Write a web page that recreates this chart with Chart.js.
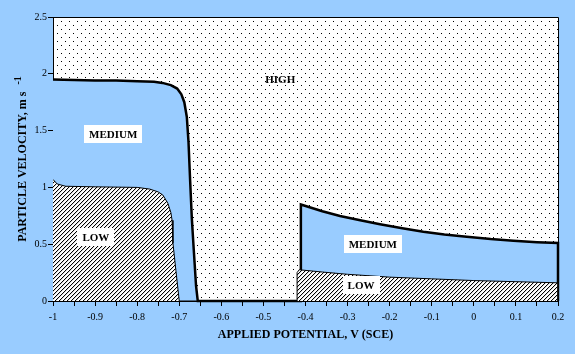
<!DOCTYPE html>
<html>
<head>
<meta charset="utf-8">
<script src="https://cdn.jsdelivr.net/npm/chart.js@4.4.0/dist/chart.umd.min.js"></script>
<style>
  html, body { margin: 0; padding: 0; background: #99ccff; }
  canvas { display: block; }
</style>
</head>
<body>
<canvas id="c" width="575" height="354" style="width:575px;height:354px"></canvas>
<script>
// ---- data ----
const xTickLabels = ['-1','-0.9','-0.8','-0.7','-0.6','-0.5','-0.4','-0.3','-0.2','-0.1','0','0.1','0.2'];
const yTickLabels = ['0','0.5','1','1.5','2','2.5'];

// upper boundary of the MEDIUM region (x = potential V, y = velocity m/s)
const mediumLeft = [
  [-1, 1.95], [-0.95, 1.945], [-0.9, 1.94], [-0.85, 1.94], [-0.8, 1.935], [-0.76, 1.93],
  [-0.74, 1.92], [-0.72, 1.90], [-0.705, 1.87], [-0.695, 1.82], [-0.688, 1.75],
  [-0.682, 1.62], [-0.678, 1.40], [-0.674, 1.05], [-0.670, 0.72], [-0.665, 0.42],
  [-0.660, 0.13], [-0.656, 0]
];
const mediumRight = [
  [-0.411, 0], [-0.411, 0.85], [-0.36, 0.79], [-0.318, 0.748], [-0.27, 0.71], [-0.223, 0.675],
  [-0.17, 0.64], [-0.12, 0.61], [-0.07, 0.585], [-0.017, 0.566], [0.04, 0.545],
  [0.094, 0.53], [0.15, 0.518], [0.2, 0.51], [0.2, 0]
];
// upper boundary of the LOW region
const lowLeft = [
  [-1, 1.07], [-0.99, 1.03], [-0.97, 1.01], [-0.9, 1.005], [-0.8, 1.0], [-0.77, 0.985],
  [-0.75, 0.96], [-0.739, 0.933], [-0.727, 0.86], [-0.72, 0.78], [-0.717, 0.71],
  [-0.715, 0.51], [-0.708, 0.27], [-0.700, 0]
];
const lowRight = [
  [-0.42, 0], [-0.42, 0.25], [-0.415, 0.275], [-0.36, 0.255], [-0.3, 0.235], [-0.2, 0.21],
  [-0.1, 0.195], [0, 0.18], [0.1, 0.17], [0.2, 0.16], [0.2, 0]
];
const regionLabels = [
  { text: 'HIGH',   x: -0.46,  y: 1.95, box: false },
  { text: 'MEDIUM', x: -0.857, y: 1.47, box: true },
  { text: 'LOW',    x: -0.898, y: 0.56, box: true },
  { text: 'MEDIUM', x: -0.24,  y: 0.50, box: true },
  { text: 'LOW',    x: -0.268, y: 0.14, box: true }
];
const xTitle = 'APPLIED POTENTIAL, V (SCE)';
const yTitle = 'PARTICLE VELOCITY, m s';
const yTitleSup = '-1';

// ---- patterns ----
function makeDots() {
  const c = document.createElement('canvas'); c.width = 8; c.height = 8;
  const g = c.getContext('2d');
  g.fillStyle = '#fff'; g.fillRect(0, 0, 8, 8);
  g.fillStyle = '#000'; g.fillRect(1, 1, 1, 1); g.fillRect(5, 5, 1, 1);
  return g.createPattern(c, 'repeat');
}
function makeHatch() {
  const c = document.createElement('canvas'); c.width = 4; c.height = 4;
  const g = c.getContext('2d');
  g.fillStyle = '#fff'; g.fillRect(0, 0, 4, 4);
  for (let r = 0; r < 4; r++) {
    g.fillStyle = '#000'; g.fillRect(3 - r, r, 1, 1);
    g.fillStyle = 'rgba(0,0,0,0.15)'; g.fillRect((4 - r) % 4, r, 1, 1);
  }
  return g.createPattern(c, 'repeat');
}
const dotPattern = makeDots();
const hatchPattern = makeHatch();

const toPts = a => a.map(p => ({ x: p[0], y: p[1] }));
const mediumData = toPts(mediumLeft.concat(mediumRight));
const lowData = toPts(lowLeft.concat(lowRight));

const SERIF = '"Liberation Serif", "Times New Roman", serif';

const bgPlugin = {
  id: 'bg',
  beforeDraw(chart) {
    const { ctx, chartArea: a } = chart;
    ctx.save();
    ctx.fillStyle = '#99ccff';
    ctx.fillRect(0, 0, chart.width, chart.height);
    ctx.fillStyle = dotPattern;
    ctx.fillRect(a.left, a.top, a.right - a.left, a.bottom - a.top);
    ctx.restore();
  },
  afterDatasetsDraw(chart) {
    const { ctx, scales: { x, y } } = chart;
    ctx.save();
    ctx.font = 'bold 11px ' + SERIF;
    ctx.textAlign = 'center';
    ctx.textBaseline = 'middle';
    regionLabels.forEach(l => {
      const px = x.getPixelForValue(l.x), py = y.getPixelForValue(l.y);
      const w = ctx.measureText(l.text).width;
      if (l.box) {
        ctx.fillStyle = '#fff';
        ctx.fillRect(Math.round(px - w / 2 - 5), Math.round(py - 9), Math.round(w + 10), 18);
      }
      ctx.fillStyle = '#000';
      ctx.fillText(l.text, px, py + 1);
    });
    ctx.restore();
  },
  afterDraw(chart) {
    const { ctx, chartArea: a } = chart;
    ctx.save();
    ctx.strokeStyle = '#000'; ctx.lineWidth = 1;
    ctx.beginPath();
    ctx.moveTo(a.left, a.top + 0.5); ctx.lineTo(a.right + 0.5, a.top + 0.5);
    ctx.lineTo(a.right + 0.5, a.bottom);
    ctx.stroke();
    // y axis title with superscript
    ctx.translate(22, (a.top + a.bottom) / 2);
    ctx.rotate(-Math.PI / 2);
    ctx.fillStyle = '#000';
    ctx.textBaseline = 'middle';
    ctx.textAlign = 'left';
    ctx.font = 'bold 12px ' + SERIF;
    const wm = ctx.measureText(yTitle).width;
    ctx.font = 'bold 10px ' + SERIF;
    const ws = ctx.measureText(yTitleSup).width;
    const gap = 7;
    const start = -(wm + gap + ws) / 2;
    ctx.font = 'bold 12px ' + SERIF;
    ctx.fillText(yTitle, start, 1);
    ctx.font = 'bold 10px ' + SERIF;
    ctx.fillText(yTitleSup, start + wm + gap, -4);
    ctx.restore();
  }
};

new Chart(document.getElementById('c'), {
  type: 'line',
  data: {
    datasets: [
      {
        label: 'LOW', data: lowData, order: 1,
        borderColor: '#000', borderWidth: 1, backgroundColor: hatchPattern,
        fill: 'origin', pointRadius: 0, tension: 0
      },
      {
        label: 'MEDIUM', data: mediumData, order: 2, clip: 3,
        borderColor: '#000', borderWidth: 2.5, backgroundColor: '#99ccff',
        fill: 'origin', pointRadius: 0, tension: 0
      }
    ]
  },
  options: {
    responsive: false,
    animation: false,
    layout: { padding: { top: 17, right: 17, left: 0, bottom: 0 } },
    plugins: { legend: { display: false }, tooltip: { enabled: false } },
    scales: {
      x: {
        type: 'linear', min: -1, max: 0.2,
        afterFit(s) { s.height = 53; },
        grid: { drawOnChartArea: false, drawTicks: true, tickLength: 5, color: '#000' },
        border: { color: '#000', width: 1 },
        ticks: {
          stepSize: 0.05, autoSkip: false, maxRotation: 0, padding: 5,
          color: '#000', font: { family: SERIF, size: 10 },
          callback(v) {
            const k = Math.round((v + 1) * 20);
            return k % 2 === 0 ? (xTickLabels[k / 2] || '') : '';
          }
        },
        title: {
          display: true, text: xTitle, color: '#000',
          font: { family: SERIF, size: 12, weight: 'bold' },
          padding: { top: 0, bottom: 12 }
        }
      },
      y: {
        min: 0, max: 2.5,
        afterFit(s) { s.width = 53; },
        grid: { drawOnChartArea: false, drawTicks: true, tickLength: 5, color: '#000' },
        border: { color: '#000', width: 1 },
        ticks: {
          stepSize: 0.5, padding: 1, color: '#000', font: { family: SERIF, size: 10 },
          callback(v) { return yTickLabels[Math.round(v / 0.5)]; }
        }
      }
    }
  },
  plugins: [bgPlugin]
});
</script>
</body>
</html>
